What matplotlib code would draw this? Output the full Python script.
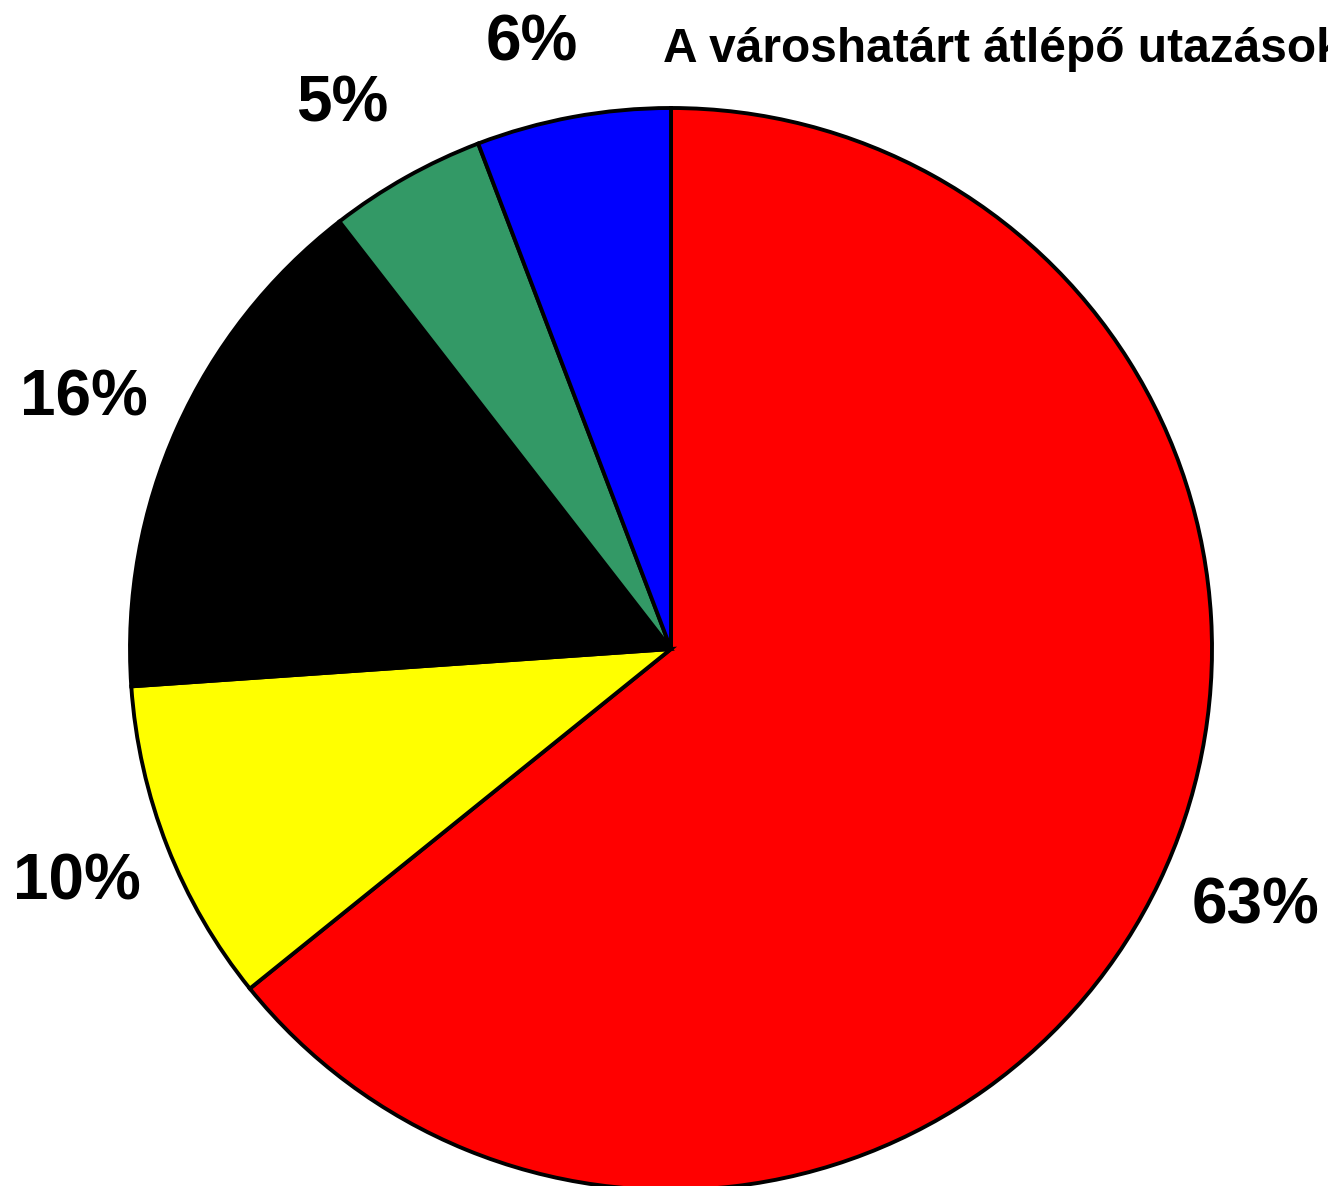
import matplotlib.pyplot as plt
import numpy as np

# kördiagram adatai (az óramutató járásával egyezően, felülről indulva)
values = [64.2, 9.7, 15.6, 4.7, 5.8]
labels = ['63%', '10%', '16%', '5%', '6%']
colors = ['#FF0000', '#FFFF00', '#000000', '#339966', '#0000FF']
title = 'A városhatárt átlépő utazások'

# a feliratok távolsága a középponttól (sugár egységben)
label_dist = [1.18, 1.18, 1.18, 1.175, 1.148]
label_shift = [1.8, 0, 1.0, 1.8, 2.5]   # fok, a szelet közepéhez képest

plt.rcParams['font.family'] = ['Liberation Sans', 'DejaVu Sans']

W, H = 1328, 1186
fig = plt.figure(figsize=(W / 100, H / 100), dpi=100)
ax = fig.add_axes([0, 0, 1, 1])

cx, cy, r = 671, H - 649, 541
wedges, texts = ax.pie(values, colors=colors, startangle=90, counterclock=False,
                       center=(cx, cy), radius=r,
                       labels=labels, labeldistance=1.18,
                       wedgeprops=dict(edgecolor='black', linewidth=2.8),
                       textprops=dict(fontsize=46, fontweight='bold', color='black',
                                      ha='center', va='center'))

# feliratok finomhangolása
for w, t, d, s in zip(wedges, texts, label_dist, label_shift):
    ang = np.deg2rad((w.theta1 + w.theta2) / 2 + s)
    t.set_position((cx + d * r * np.cos(ang), cy + d * r * np.sin(ang)))

ax.set_xlim(0, W)
ax.set_ylim(0, H)
ax.set_aspect('equal')
ax.axis('off')

fig.text(663 / W, 1 - 62 / H, title, fontsize=34.5, fontweight='bold',
         ha='left', va='baseline')

fig.savefig('out.png', dpi=100)
